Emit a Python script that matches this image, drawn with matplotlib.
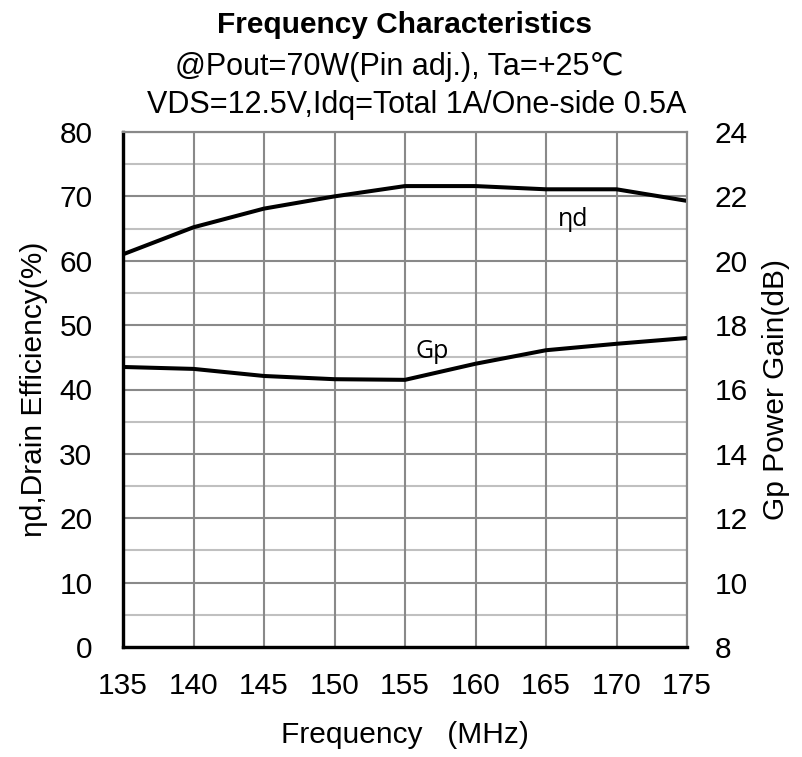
import matplotlib
matplotlib.use("Agg")
import matplotlib.pyplot as plt
import numpy as np

freq = [135, 140, 145, 150, 155, 160, 165, 170, 175]
eta_d = [61.0, 65.2, 68.1, 70.0, 71.6, 71.6, 71.1, 71.1, 69.3]
gp = [16.7, 16.64, 16.42, 16.32, 16.3, 16.8, 17.22, 17.42, 17.6]

x_ticks = [135, 140, 145, 150, 155, 160, 165, 170, 175]
left_ticks = [0, 10, 20, 30, 40, 50, 60, 70, 80]
right_ticks = [8, 10, 12, 14, 16, 18, 20, 22, 24]

plt.rcParams['font.family'] = ['Liberation Sans', 'DejaVu Sans']

fig = plt.figure(figsize=(8.03, 7.57), dpi=100)
ax = fig.add_axes([123/803, 1-647/757, (687-123)/803, (647-132)/757])
ax2 = ax.twinx()

ax.set_xlim(135, 175)
ax.set_ylim(0, 80)
ax2.set_ylim(8, 24)

# grid
for v in np.arange(5, 80, 10):
    ax.axhline(v, color='#c0c0c0', lw=1.5, zorder=1)
for v in np.arange(10, 81, 10):
    ax.axhline(v, color='#898989', lw=1.5, zorder=1)
for v in x_ticks[1:]:
    ax.axvline(v, color='#898989', lw=1.5, zorder=1)

ax.plot(freq, eta_d, color='black', lw=2.9, zorder=3, solid_capstyle='butt')
ax2.plot(freq, gp, color='black', lw=2.9, zorder=3, solid_capstyle='butt')

lab_font = ['Open Sans', 'DejaVu Sans']
ax.text(166.9, 65.4, 'ηd', fontsize=18, family=lab_font, ha='center', va='baseline')
ax.text(156.9, 44.9, 'Gp', fontsize=18, family=lab_font, ha='center', va='baseline')

ax.set_xticks(x_ticks)
ax.set_yticks(left_ticks)
ax2.set_yticks(right_ticks)
ax.tick_params(axis='both', length=0, labelsize=21.5)
ax.tick_params(axis='x', pad=18)
ax.tick_params(axis='y', pad=22)
ax2.tick_params(axis='y', length=0, labelsize=21.5, pad=20)

for a in (ax, ax2):
    a.spines['top'].set_color('#898989')
    a.spines['top'].set_linewidth(1.5)
    a.spines['right'].set_color('#898989')
    a.spines['right'].set_linewidth(1.5)
    a.spines['left'].set_color('black')
    a.spines['left'].set_linewidth(2.3)
    a.spines['bottom'].set_color('black')
    a.spines['bottom'].set_linewidth(2.3)

ax.set_ylabel('ηd,Drain Efficiency(%)', fontsize=21.5, labelpad=8)
ax2.set_ylabel('Gp Power Gain(dB)', fontsize=21.5, labelpad=10)
ax.set_xlabel('Frequency   (MHz)', fontsize=21.5, labelpad=15)

fig.text(405/803, 1-33/757, 'Frequency Characteristics', fontsize=21.5, fontweight='bold', ha='center', va='baseline')
fig.text(399/803, 1-75/757, '@Pout=70W(Pin adj.), Ta=+25℃', fontsize=22, ha='center', va='baseline')
fig.text(417/803, 1-113/757, 'VDS=12.5V,Idq=Total 1A/One-side 0.5A', fontsize=22, ha='center', va='baseline')

fig.savefig('out.png', dpi=100)
